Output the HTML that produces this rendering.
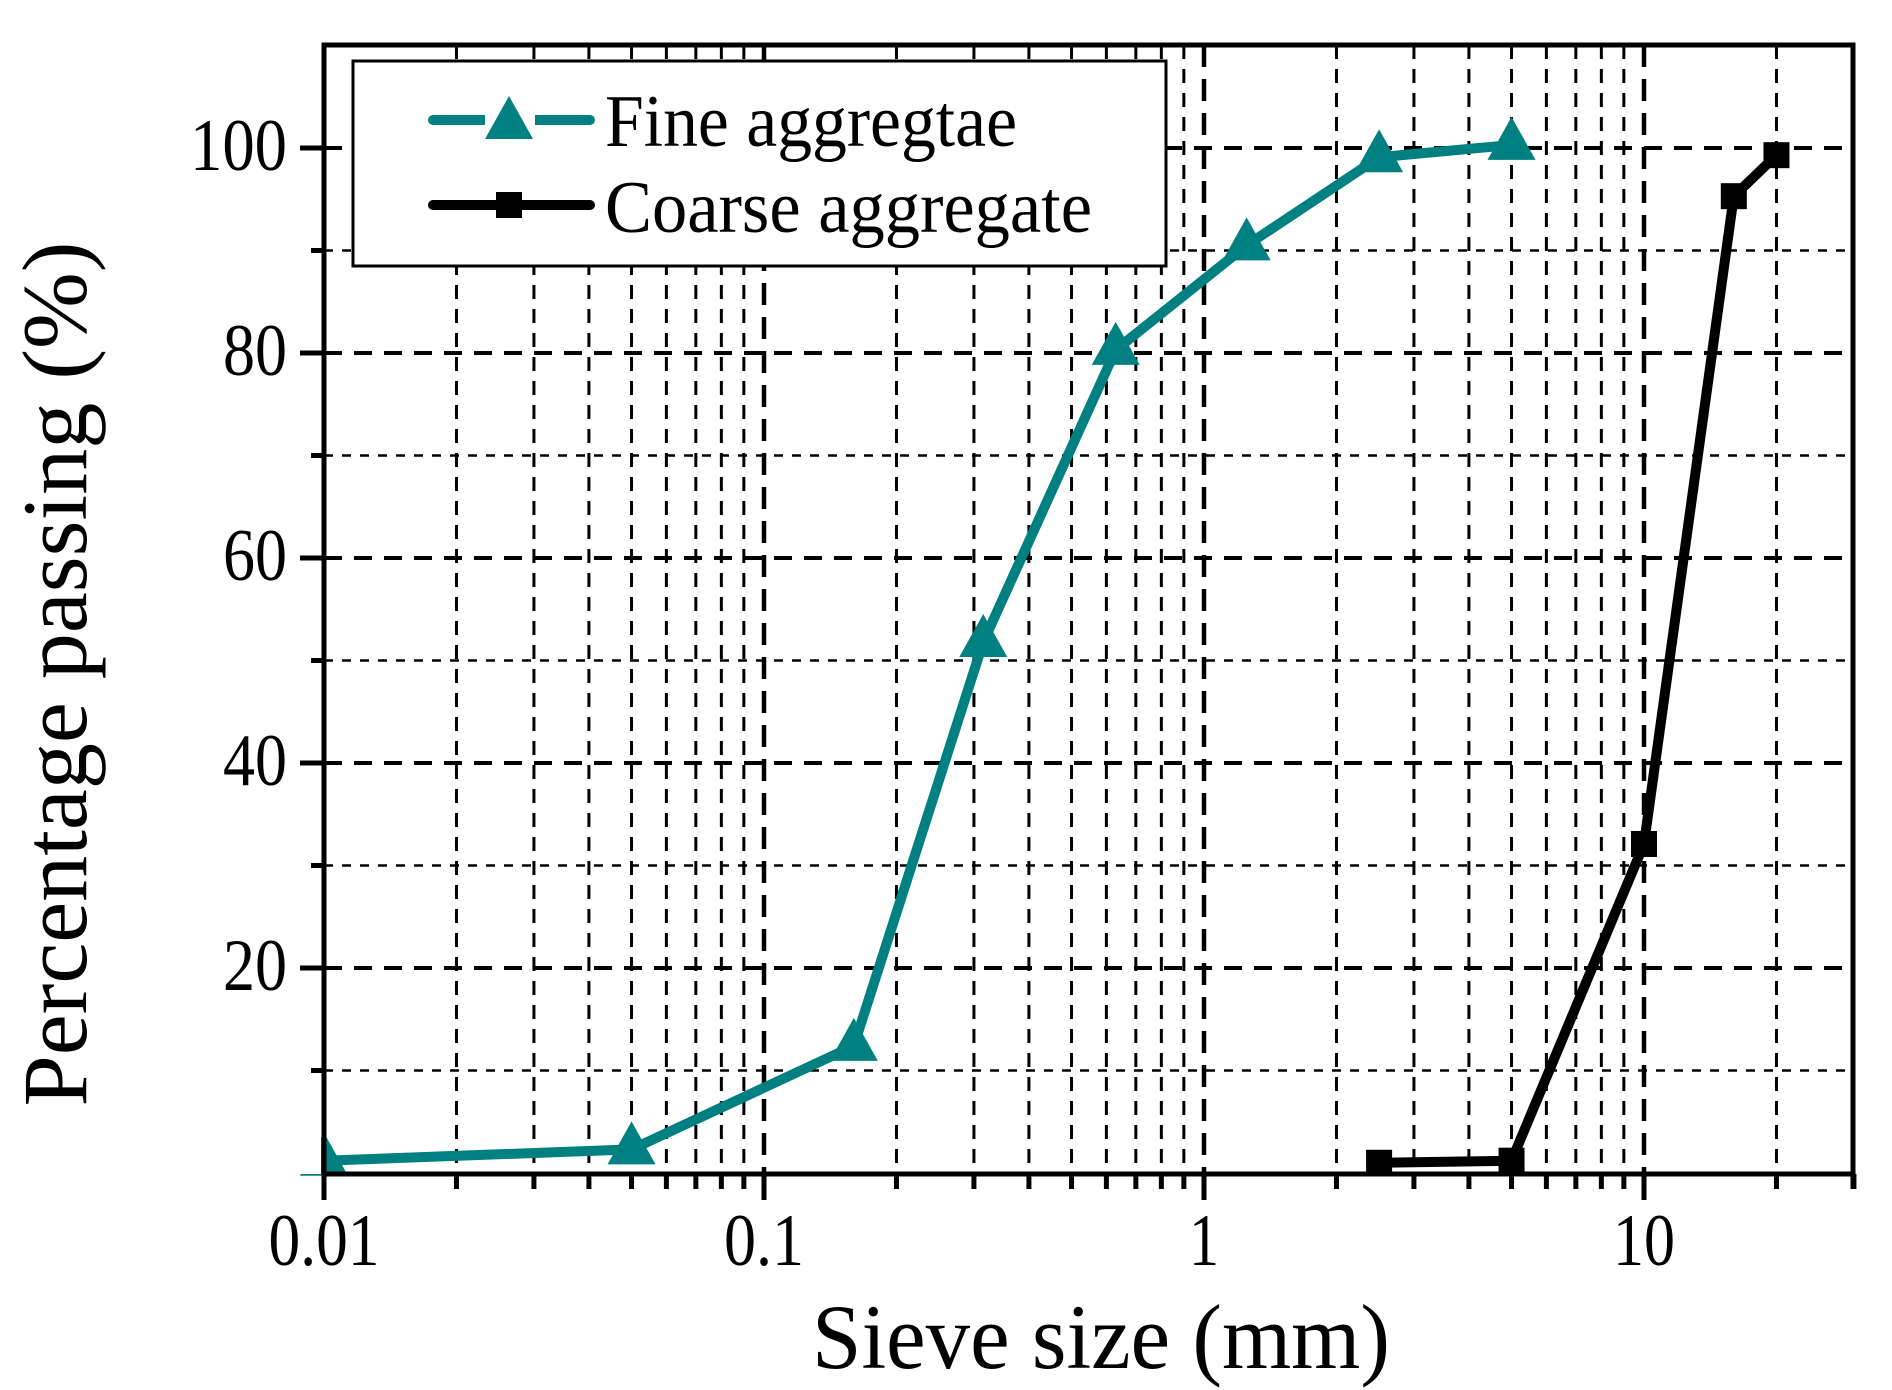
<!DOCTYPE html>
<html><head><meta charset="utf-8"><style>html,body{margin:0;padding:0;background:#fff}svg{display:block}</style></head>
<body>
<svg width="1892" height="1390" xmlns="http://www.w3.org/2000/svg" font-family="'Liberation Serif', serif">
<rect width="1892" height="1390" fill="#fff"/>
<g id="grid" stroke="#000"></g>
<g id="ser"></g>
<g id="axes"></g>
<script>
var X0=324,D=440,Y0=1173,K=10.25;
function xs(v){return X0+Math.log10(v/0.01)*D}
function ys(v){return Y0-K*v}
var ns="http://www.w3.org/2000/svg";
function el(p,t,a,txt){var e=document.createElementNS(ns,t);for(var k in a)e.setAttribute(k,a[k]);if(txt!==undefined)e.textContent=txt;p.appendChild(e);return e}
var g=document.getElementById('grid'),s=document.getElementById('ser'),ax=document.getElementById('axes');
var L=324,R=1853,T=45,B=1174;
for(var v=10;v<=100;v+=10){var y=ys(v);var maj=v%20==0;
 el(g,'line',{x1:L,x2:R,y1:y,y2:y,'stroke-width':maj?4:2.5,'stroke-dasharray':maj?'18,12':'9,9'});
}
var decs=[0.01,0.1,1,10];
decs.forEach(function(d){for(var m=1;m<=9;m++){var v=d*m;if(v>30.01)break;var x=xs(v);var maj=m==1;
 if(!(d==0.01&&m==1))el(g,'line',{x1:x,x2:x,y1:T,y2:B,'stroke-width':maj?4.5:3,'stroke-dasharray':maj?'22,12':'14,10'});
 el(ax,'line',{x1:x,x2:x,y1:B,y2:maj?1200:1189,stroke:'#000','stroke-width':5});
}});
el(ax,'line',{x1:R,x2:R,y1:B,y2:1189,stroke:'#000','stroke-width':5});
[[0.01,'0.01',111],[0.1,'0.1',80],[1,'1',30],[10,'10',62]].forEach(function(a){
 el(ax,'text',{x:xs(a[0]),y:1265,'text-anchor':'middle','font-size':74,textLength:a[2],lengthAdjust:'spacingAndGlyphs'},a[1]);});
el(ax,'rect',{x:L,y:T,width:R-L,height:B-T,fill:'none',stroke:'#000','stroke-width':5});
var fine=[[0.01,1.2],[0.05,2.3],[0.16,12.4],[0.315,51.8],[0.63,80.3],[1.25,90.5],[2.5,99.1],[5,100.3]];
var coarse=[[2.5,1.0],[5,1.2],[10,32.1],[16,95.3],[20,99.3]];
function pts(a){return a.map(function(p){return xs(p[0])+','+ys(p[1])}).join(' ')}
el(s,'polyline',{points:pts(fine),fill:'none',stroke:'#008080','stroke-width':10,'stroke-linejoin':'round','stroke-linecap':'round'});
el(s,'polyline',{points:pts(coarse),fill:'none',stroke:'#000','stroke-width':10,'stroke-linejoin':'round','stroke-linecap':'round'});
function tri(p,x,y,c){el(p,'polygon',{points:(x-24)+','+(y+15)+' '+(x+24)+','+(y+15)+' '+x+','+(y-28),fill:c||'#008080'})}
function sq(p,x,y){el(p,'rect',{x:x-13,y:y-13,width:26,height:26,fill:'#000'})}
fine.forEach(function(p){tri(s,xs(p[0]),ys(p[1]))});
coarse.forEach(function(p){sq(s,xs(p[0]),ys(p[1]))});
el(ax,'rect',{x:0,y:T,width:L-3,height:B-T,fill:'#fff'});
for(var v=10;v<=100;v+=10){var y=ys(v);var maj=v%20==0;
 el(ax,'line',{x1:maj?300:311,x2:L,y1:y,y2:y,stroke:'#000','stroke-width':5});
 if(maj)el(ax,'text',{x:287,y:y+22,'text-anchor':'end','font-size':74,textLength:v==100?97:64,lengthAdjust:'spacingAndGlyphs'},String(v));}
el(ax,'line',{x1:L,x2:L,y1:T-2,y2:1200,stroke:'#000','stroke-width':5});
el(ax,'rect',{x:353,y:61,width:813,height:205,fill:'#fff',stroke:'#000','stroke-width':3});
el(ax,'line',{x1:433,x2:590,y1:120,y2:120,stroke:'#008080','stroke-width':10,'stroke-linecap':'round'});
el(ax,'rect',{x:485,y:108,width:50,height:22,fill:'#fff'});
tri(ax,509,124);
el(ax,'line',{x1:433,x2:590,y1:205,y2:205,stroke:'#000','stroke-width':10,'stroke-linecap':'round'});
el(ax,'rect',{x:496,y:192,width:26,height:26,fill:'#000'});
el(ax,'text',{x:605,y:146,'font-size':74,textLength:412,lengthAdjust:'spacingAndGlyphs'},'Fine aggregtae');
el(ax,'text',{x:605,y:232,'font-size':74,textLength:487,lengthAdjust:'spacingAndGlyphs'},'Coarse aggregate');
el(ax,'text',{x:812,y:1368,'font-size':92,textLength:578,lengthAdjust:'spacingAndGlyphs'},'Sieve size (mm)');
el(ax,'text',{x:0,y:0,'font-size':92,'text-anchor':'middle',textLength:865,lengthAdjust:'spacingAndGlyphs',transform:'translate(86,674) rotate(-90)'},'Percentage passing (%)');
</script>
</svg>
</body></html>
